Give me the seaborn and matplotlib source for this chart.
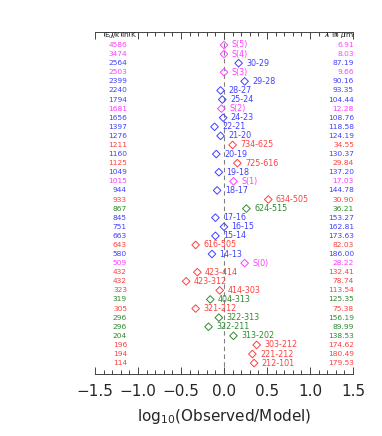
import pandas as pd
import numpy as np
import matplotlib
matplotlib.use("Agg")
import matplotlib.pyplot as plt
import seaborn as sns

# upper level energies (K), transition labels, log10(obs/model), wavelength (um), species group
eu = ["4586", "3474", "2564", "2503", "2399", "2240", "1794", "1681", "1656", "1397",
      "1276", "1211", "1160", "1125", "1049", "1015", "944", "933", "867", "845",
      "751", "663", "643", "580", "509", "432", "432", "323", "319", "305",
      "296", "296", "204", "196", "194", "114"]
labels = ["S(5)", "S(4)", "30-29", "S(3)", "29-28", "28-27", "25-24", "S(2)", "24-23", "22-21",
          "21-20", "734-625", "20-19", "725-616", "19-18", "S(1)", "18-17", "634-505", "624-515", "17-16",
          "16-15", "15-14", "616-505", "14-13", "S(0)", "423-414", "423-312", "414-303", "404-313", "321-212",
          "322-313", "322-211", "313-202", "303-212", "221-212", "212-101"]
ratio = [0.00, 0.00, 0.17, 0.00, 0.24, -0.04, -0.02, -0.03, -0.01, -0.11,
         -0.04, 0.10, -0.09, 0.155, -0.06, 0.11, -0.08, 0.515, 0.26, -0.10,
         0.00, -0.10, -0.33, -0.14, 0.24, -0.31, -0.44, -0.05, -0.16, -0.33,
         -0.06, -0.18, 0.11, 0.38, 0.33, 0.35]
wavelength = ["6.91", "8.03", "87.19", "9.66", "90.16", "93.35", "104.44", "12.28", "108.76", "118.58",
              "124.19", "34.55", "130.37", "29.84", "137.20", "17.03", "144.78", "30.90", "36.21", "153.27",
              "162.81", "173.63", "82.03", "186.00", "28.22", "132.41", "78.74", "113.54", "125.35", "75.38",
              "156.19", "89.99", "138.53", "174.62", "180.49", "179.53"]
group = ["H2", "H2", "CO", "H2", "CO", "CO", "CO", "H2", "CO", "CO",
         "CO", "oH2O", "CO", "oH2O", "CO", "H2", "CO", "oH2O", "pH2O", "CO",
         "CO", "CO", "oH2O", "CO", "H2", "oH2O", "oH2O", "oH2O", "pH2O", "oH2O",
         "pH2O", "pH2O", "pH2O", "oH2O", "oH2O", "oH2O"]

colors = {"H2": "#ff40ff", "CO": "#4040ff", "oH2O": "#ff4040", "pH2O": "#2e8b2e"}

df = pd.DataFrame({"eu": eu, "label": labels, "ratio": ratio,
                   "lam": wavelength, "group": group})
df["row"] = np.arange(len(df))

sns.set_style("white")
plt.rcParams["font.family"] = ["DejaVu Sans"]

fig = plt.figure(figsize=(3.82, 4.36), dpi=100)
ax = fig.add_axes([0.2487, 0.1422, 0.6754, 0.7844])

ax.axvline(0, color="gray", lw=0.8, ls=(0, (4, 3)), zorder=0)

for g, sub in df.groupby("group"):
    sns.scatterplot(data=sub, x="ratio", y="row", marker="D", s=15,
                    facecolor="none", edgecolor=colors[g], linewidth=0.7,
                    ax=ax, legend=False)

for _, r in df.iterrows():
    c = colors[r["group"]]
    ax.annotate(r["label"], (r["ratio"], r["row"]), xytext=(5.5, 0),
                textcoords="offset points", va="center", ha="left",
                fontsize=5.8, color=c)
    ax.text(-1.128, r["row"], r["eu"], ha="right", va="center", fontsize=5.4, color=c)
    ax.text(1.51, r["row"], r["lam"], ha="right", va="center", fontsize=5.4, color=c)

ax.text(-1.40, -1.05, r"E$_{\rm u}$/k in K", ha="left", va="center", fontsize=5.4)
ax.text(1.51, -1.05, r"$\lambda$ in $\mu$m", ha="right", va="center", fontsize=5.4)

ax.set_xlim(-1.5, 1.5)
ax.set_ylim(36.2, -1.43)
ax.set_yticks([])
ax.set_ylabel("")
ax.set_xlabel(r"log$_{10}$(Observed/Model)", fontsize=11, labelpad=6)
ax.set_xticks(np.arange(-1.5, 1.51, 0.5))
ax.set_xticks(np.arange(-1.5, 1.51, 0.1), minor=True)
ax.set_xticklabels(["\u22121.5", "\u22121.0", "\u22120.5", "0.0", "0.5", "1.0", "1.5"])
ax.tick_params(axis="x", which="both", direction="in", top=True, bottom=True,
               labelsize=11, width=0.7, color="#444444", pad=7)
ax.tick_params(axis="x", which="major", length=5)
ax.tick_params(axis="x", which="minor", length=3)
ax.spines["left"].set_visible(False)
ax.spines["right"].set_visible(False)
for s in ["top", "bottom"]:
    ax.spines[s].set_linewidth(0.7)
    ax.spines[s].set_color("#444444")

fig.savefig("out.png", dpi=100)
